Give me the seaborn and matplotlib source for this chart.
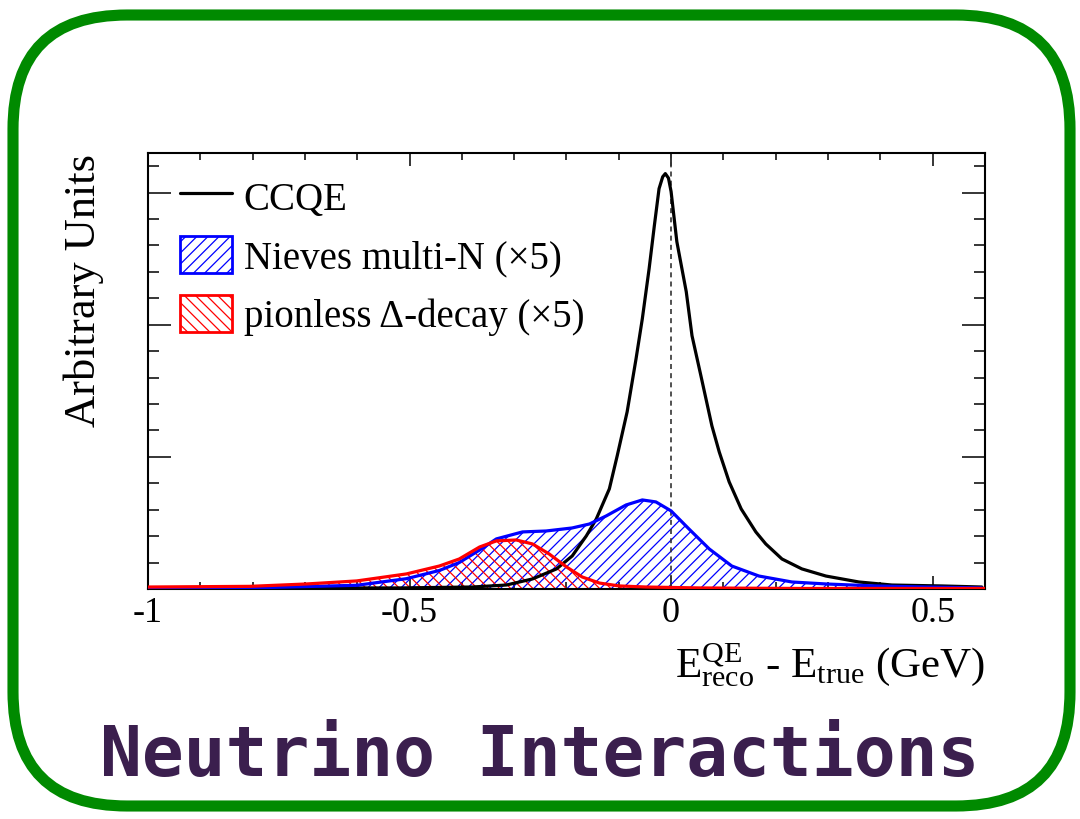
import numpy as np
import pandas as pd
import seaborn as sns
from matplotlib import pyplot as plt
from matplotlib.lines import Line2D
from matplotlib.patches import Patch, FancyBboxPatch
from matplotlib.ticker import MultipleLocator

# values
ccqe_x = [-1.0, -0.71, -0.519, -0.38, -0.315, -0.265, -0.219, -0.189, -0.162, -0.143,
          -0.118, -0.103, -0.084, -0.067, -0.055, -0.042, -0.032, -0.023, -0.016, -0.011,
          -0.005, 0.0, 0.011, 0.029, 0.04, 0.057, 0.078, 0.092, 0.111, 0.134, 0.162, 0.181,
          0.212, 0.25, 0.296, 0.359, 0.422, 0.517, 0.594]
ccqe_y = [0.0, 0.008, 0.008, 0.015, 0.030, 0.076, 0.152, 0.250, 0.402, 0.530,
          0.758, 1.008, 1.341, 1.742, 2.045, 2.424, 2.750, 3.030, 3.120, 3.144,
          3.110, 3.008, 2.629, 2.250, 1.917, 1.614, 1.235, 1.038, 0.811, 0.606, 0.432, 0.341,
          0.227, 0.152, 0.098, 0.053, 0.030, 0.023, 0.015]

nieves_x = [-1.0, -0.805, -0.601, -0.506, -0.443, -0.405, -0.366, -0.334, -0.284, -0.239,
            -0.189, -0.156, -0.124, -0.086, -0.055, -0.029, 0.0, 0.034, 0.073, 0.116,
            0.168, 0.231, 0.296, 0.391, 0.487, 0.594]
nieves_y = [0.004, 0.008, 0.028, 0.078, 0.140, 0.200, 0.295, 0.379, 0.432, 0.439,
            0.462, 0.492, 0.553, 0.636, 0.674, 0.659, 0.591, 0.455, 0.303, 0.174,
            0.098, 0.053, 0.038, 0.023, 0.015, 0.008]

delta_x = [-1.0, -0.805, -0.697, -0.601, -0.506, -0.443, -0.405, -0.366, -0.334, -0.296,
           -0.265, -0.233, -0.2, -0.17, -0.137, -0.099, -0.048, 0.053, 0.244, 0.6]
delta_y = [0.015, 0.020, 0.038, 0.061, 0.114, 0.174, 0.227, 0.318, 0.364, 0.371,
           0.341, 0.265, 0.167, 0.091, 0.045, 0.023, 0.015, 0.008, 0.004, 0.004]

labels = ['CCQE', 'Nieves multi-N (\u00d75)', 'pionless \u0394-decay (\u00d75)']
xtick_vals = [-1, -0.5, 0, 0.5]
xtick_labels = ['-1', '-0.5', '0', '0.5']

sns.set_style('ticks')
plt.rcParams['font.family'] = ['Liberation Serif', 'DejaVu Serif']
plt.rcParams['mathtext.fontset'] = 'custom'
plt.rcParams['mathtext.rm'] = 'Liberation Serif'
plt.rcParams['mathtext.it'] = 'Liberation Serif:italic'
plt.rcParams['hatch.linewidth'] = 0.9
plt.rcParams['text.color'] = 'black'
plt.rcParams['axes.labelcolor'] = 'black'

fig = plt.figure(figsize=(10.8, 8.2), dpi=100)
ax = fig.add_axes([0.137, 0.2805, 0.775, 0.5317])

ccqe = pd.DataFrame({'x': ccqe_x, 'y': ccqe_y})
nieves = pd.DataFrame({'x': nieves_x, 'y': nieves_y})
delta = pd.DataFrame({'x': delta_x, 'y': delta_y})

ax.fill_between(nieves.x, 0, nieves.y, facecolor='none', edgecolor='blue',
                hatch='///', linewidth=0, zorder=1)
ax.fill_between(delta.x, 0, delta.y, facecolor='none', edgecolor='red',
                hatch='\\\\\\', linewidth=0, zorder=1.1)
sns.lineplot(data=ccqe, x='x', y='y', color='black', linewidth=2.3, ax=ax, zorder=3)
sns.lineplot(data=nieves, x='x', y='y', color='blue', linewidth=2.3, ax=ax, zorder=3.1)
sns.lineplot(data=delta, x='x', y='y', color='red', linewidth=2.3, ax=ax, zorder=3.2)
ax.axvline(0, color='#333333', linewidth=1.2, linestyle=(0, (3, 2.5)), zorder=2)

ax.set_xlim(-1, 0.6)
ax.set_ylim(0, 3.3)
ax.set_xticks(xtick_vals)
ax.set_xticklabels(xtick_labels)
ax.xaxis.set_minor_locator(MultipleLocator(0.1))
ax.set_yticks([0, 1, 2, 3])
ax.set_yticklabels([])
ax.yaxis.set_minor_locator(MultipleLocator(0.2))
ax.tick_params(which='both', direction='in', top=True, right=True, width=1.1,
               colors='black', labelsize=26)
ax.tick_params(axis='x', which='major', length=9.5, pad=5)
ax.tick_params(axis='x', which='minor', length=5)
ax.tick_params(axis='y', which='major', length=16.5)
ax.tick_params(axis='y', which='minor', length=8)
for sp in ax.spines.values():
    sp.set_linewidth(1.5)
    sp.set_color('black')

ax.set_xlabel(r'$\mathrm{E}^{\mathrm{QE}}_{\mathrm{reco}}$ - E$_{\mathrm{true}}$ (GeV)',
              fontsize=31, loc='right')
ax.xaxis.set_label_coords(1.0, -0.118)
ax.set_ylabel('Arbitrary Units', fontsize=32, loc='top')
ax.yaxis.set_label_coords(-0.052, 1.0)

handles = [Line2D([], [], color='black', linewidth=2.3),
           Patch(facecolor='white', edgecolor='blue', hatch='///', linewidth=2),
           Patch(facecolor='white', edgecolor='red', hatch='\\\\\\', linewidth=2)]
ax.legend(handles, labels, loc='upper left', bbox_to_anchor=(0.038, 0.945),
          frameon=False, fontsize=28, borderpad=0, borderaxespad=0,
          handlelength=1.34, handleheight=1.08, handletextpad=0.3, labelspacing=0.47)

fig.text(0.5, 1 - 757 / 820, 'Neutrino Interactions', ha='center', va='center',
         family='DejaVu Sans Mono', weight='bold', fontsize=50, color='#3b1f4e')

box = FancyBboxPatch((0.13, 0.13), 10.57, 7.91, boxstyle='round,pad=0,rounding_size=1.14',
                     transform=fig.dpi_scale_trans, facecolor='none', edgecolor='#008a00',
                     linewidth=8)
fig.patches.append(box)

fig.savefig('out.png', dpi=100)
